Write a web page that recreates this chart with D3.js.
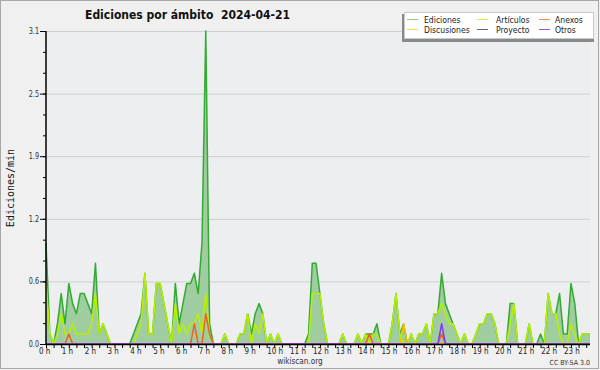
<!DOCTYPE html>
<html>
<head>
<meta charset="utf-8">
<script src="https://cdn.jsdelivr.net/npm/d3@7/dist/d3.min.js"></script>
<style>
  body { margin: 0; background: #f0f0f0; }
  svg { display: block; }
  text { font-family: 'DejaVu Sans Condensed', 'DejaVu Sans', sans-serif; white-space: pre; }
</style>
</head>
<body>
<div id="container"></div>
<script>
// one value every 10 minutes, edits per minute
const total = [
  1.0,0.1,0,0.2,0.5,0.2,0.6,0.4,0.3,0.5,0.5,0.4,
  0.3,0.8,0.1,0.2,0.1,0,0,0,0,0,0,0.1,
  0.2,0.3,0.7,0.1,0.1,0.6,0.6,0.4,0.2,0,0.6,0.2,
  0.4,0.6,0.6,0.7,0.5,1.0,3.1,0.2,0,0,0,0.1,
  0,0,0,0.1,0.1,0.3,0.1,0.3,0.4,0.3,0,0.1,
  0,0.1,0,0,0,0,0,0,0,0.1,0.8,0.8,
  0.5,0.2,0,0,0,0,0.1,0,0,0,0.1,0,
  0.1,0.1,0.1,0.2,0,0,0,0.2,0.5,0.1,0.2,0,
  0.1,0,0.1,0.1,0.2,0,0.3,0.3,0.7,0.4,0.3,0.2,
  0.1,0,0.1,0,0,0.1,0.2,0.2,0.3,0.3,0.2,0,
  0,0,0.4,0.4,0,0,0,0.2,0,0,0.1,0,
  0.5,0.3,0.3,0.5,0.1,0.1,0.6,0.4,0,0.1,0.1,0.1
];
const articulos = [
  0.6,0.1,0,0.1,0.3,0.1,0.1,0.2,0.1,0.1,0.1,0.1,
  0.2,0.5,0.1,0.2,0.1,0,0,0,0,0,0,0,
  0.1,0.2,0.7,0.1,0.1,0.6,0.6,0.4,0.2,0,0.4,0.1,
  0.2,0.1,0.2,0.2,0.3,0.1,0.5,0.1,0,0,0,0.1,
  0,0,0,0.1,0.1,0.3,0,0.2,0.1,0.3,0,0.1,
  0,0.1,0,0,0,0,0,0,0,0,0.5,0.5,
  0.5,0.2,0,0,0,0,0.1,0,0,0,0.1,0,
  0.1,0,0.1,0.1,0,0,0,0.2,0.5,0.1,0,0,
  0.1,0,0.1,0.1,0.2,0,0.3,0.3,0.4,0.3,0.2,0.2,
  0.1,0,0.1,0,0,0.1,0.2,0.2,0.3,0.3,0.2,0,
  0,0,0.2,0.4,0,0,0,0.2,0,0,0,0,
  0.5,0.3,0.3,0.1,0,0,0.2,0.1,0,0.1,0.1,0.1
];
const anexos = [
  0,0,0,0,0,0,0.1,0,0,0,0,0,
  0,0,0,0,0,0,0,0,0,0,0,0,
  0,0,0,0,0,0,0,0,0,0,0,0,
  0,0,0,0.2,0,0,0.3,0.1,0,0,0,0,
  0,0,0,0,0,0,0,0,0,0,0,0,
  0,0,0,0,0,0,0,0,0,0,0,0,
  0,0,0,0,0,0,0,0,0,0,0,0,
  0,0.1,0,0,0,0,0,0,0,0,0,0,
  0,0,0,0,0,0,0,0,0.1,0,0,0,
  0,0,0,0,0,0,0,0,0,0,0,0,
  0,0,0,0,0,0,0,0,0,0,0,0,
  0,0,0,0,0,0,0,0,0,0,0,0
];
const discusiones = [
  0,0,0,0,0,0,0,0,0,0,0,0,
  0,0,0,0,0,0,0,0,0,0,0,0,
  0,0,0,0,0,0,0,0,0,0,0,0,
  0,0,0,0,0,0,0,0,0,0,0,0,
  0,0,0,0,0,0,0,0,0,0,0,0,
  0,0,0,0,0,0,0,0,0,0,0,0,
  0,0,0,0,0,0,0,0,0,0,0,0,
  0,0,0,0,0,0,0,0,0,0,0.2,0,
  0,0,0,0,0,0,0,0,0,0,0,0,
  0,0,0,0,0,0,0,0,0,0,0,0,
  0,0,0,0,0,0,0,0,0,0,0,0,
  0,0,0,0,0,0,0,0,0,0,0,0
];
const proyecto = new Array(144).fill(0);
const otros = [
  0,0,0,0,0,0,0,0,0,0,0,0,
  0,0,0,0,0,0,0,0,0,0,0,0,
  0,0,0,0,0,0,0,0,0,0,0,0,
  0,0,0,0,0,0,0,0,0,0,0,0,
  0,0,0,0,0,0,0,0,0,0,0,0,
  0,0,0,0,0,0,0,0,0,0,0,0,
  0,0,0,0,0,0,0,0,0,0,0,0,
  0,0,0,0,0,0,0,0,0,0,0,0,
  0,0,0,0,0,0,0,0,0.2,0,0,0,
  0,0,0,0,0,0,0,0,0,0,0,0,
  0,0,0,0,0,0,0,0,0,0,0,0,
  0,0,0,0,0,0,0,0,0,0,0,0
];

const hourLabels = ['0 h','1 h','2 h','3 h','4 h','5 h','6 h','7 h','8 h','9 h','10 h','11 h',
  '12 h','13 h','14 h','15 h','16 h','17 h','18 h','19 h','20 h','21 h','22 h','23 h'];
const yTicks = [0, 0.62, 1.24, 1.86, 2.48, 3.1];
const yTickLabels = ['0.0', '0.6', '1.2', '1.9', '2.5', '3.1'];

const legendNames = ['Ediciones', 'Artículos', 'Anexos', 'Discusiones', 'Proyecto', 'Otros'];
const legendColors = ['#88cc88', '#ccee55', '#ff8855', '#ffd855', '#666666', '#9955ee'];

const width = 600, height = 370;
const svg = d3.select('#container').append('svg')
  .attr('width', width)
  .attr('height', height);

// squeeze text a little, the original font is narrower
function condense(sel, k) {
  sel.each(function() {
    const w = this.getComputedTextLength();
    d3.select(this)
      .attr('textLength', w * k)
      .attr('lengthAdjust', 'spacingAndGlyphs');
  });
}

const x = d3.scaleLinear().domain([0, total.length - 1]).range([46, 590]);
const y = d3.scaleLinear().domain([0, 3.1]).range([344, 31]);

// frame
svg.append('rect')
  .attr('x', 0.5).attr('y', 0.5)
  .attr('width', 598).attr('height', 368)
  .attr('fill', '#f0f0f0')
  .attr('stroke', '#a8a8a8');

svg.append('rect')
  .attr('x', x(0)).attr('y', y(3.1))
  .attr('width', x(143) - x(0)).attr('height', y(0) - y(3.1))
  .attr('fill', '#edeef0');

// grid
svg.append('g')
  .selectAll('line')
  .data(yTicks.slice(1))
  .enter()
  .append('line')
  .attr('x1', x(0)).attr('x2', x(143))
  .attr('y1', (d) => y(d) + 0.5).attr('y2', (d) => y(d) + 0.5)
  .attr('stroke', '#cfcfcf');

// area for total edits
const area = d3.area()
  .x((d, i) => x(i))
  .y0(y(0))
  .y1((d) => y(d));

svg.append('path')
  .datum(total)
  .attr('d', area)
  .attr('fill', '#a0cda0');

const line = d3.line()
  .x((d, i) => x(i))
  .y((d) => y(d));

const series = [
  { values: total, color: '#33aa33' },
  { values: proyecto, color: '#555555' },
  { values: discusiones, color: '#f2c200' },
  { values: articulos, color: '#b8f000' },
  { values: anexos, color: '#f06020' },
  { values: otros, color: '#8833ff' }
];

svg.append('g')
  .selectAll('path')
  .data(series)
  .enter()
  .append('path')
  .attr('d', (d) => line(d.values))
  .attr('fill', 'none')
  .attr('stroke', (d) => d.color)
  .attr('stroke-width', 1.5)
  .attr('stroke-linejoin', 'round');

// y axis
const yMinor = d3.range(16).map((k) => k * 3.1 / 15);
svg.append('g')
  .attr('transform', `translate(${x(0)},0)`)
  .call(d3.axisLeft(y).tickValues(yMinor).tickSize(3).tickSizeOuter(0).tickFormat(''))
  .call((g) => g.select('.domain').remove());

const yAxis = svg.append('g')
  .attr('transform', `translate(${x(0)},0)`)
  .call(d3.axisLeft(y)
    .tickValues(yTicks)
    .tickSize(6)
    .tickSizeOuter(0)
    .tickPadding(1)
    .tickFormat((d, i) => yTickLabels[i]));
yAxis.select('.domain').remove();
yAxis.selectAll('text')
  .attr('font-size', 8)
  .attr('fill', '#333')
  .call(condense, 0.9);

svg.append('line')
  .attr('x1', x(0)).attr('x2', x(0))
  .attr('y1', y(3.1)).attr('y2', y(0) + 1)
  .attr('stroke', '#000')
  .attr('stroke-width', 1.5);

// x axis
svg.append('g')
  .attr('transform', `translate(0,${y(0)})`)
  .call(d3.axisBottom(x).tickValues(d3.range(0, 144, 2)).tickSize(4).tickSizeOuter(0).tickFormat(''))
  .call((g) => g.select('.domain').remove());

svg.append('line')
  .attr('x1', x(0)).attr('x2', x(143))
  .attr('y1', y(0) + 0.5).attr('y2', y(0) + 0.5)
  .attr('stroke', '#000')
  .attr('stroke-width', 1.5);

svg.append('g')
  .selectAll('text')
  .data(hourLabels)
  .enter()
  .append('text')
  .attr('x', (d, i) => x(i * 6) - 7)
  .attr('y', 354)
  .attr('font-size', 9)
  .attr('fill', '#222')
  .text((d) => d)
  .call(condense, 0.88);

// titles
svg.append('text')
  .attr('x', 85).attr('y', 19)
  .attr('font-size', 13)
  .attr('font-weight', 'bold')
  .attr('fill', '#111')
  .attr('textLength', 205)
  .attr('lengthAdjust', 'spacingAndGlyphs')
  .text('Ediciones por ámbito  2024-04-21');

svg.append('text')
  .attr('transform', 'translate(14,188) rotate(-90)')
  .attr('text-anchor', 'middle')
  .style('font-family', "'DejaVu Sans Mono', monospace")
  .attr('font-size', 10)
  .attr('fill', '#111')
  .text('Ediciones/min');

svg.append('text')
  .attr('x', 300).attr('y', 364)
  .attr('text-anchor', 'middle')
  .attr('font-size', 9)
  .attr('fill', '#333')
  .text('wikiscan.org')
  .call(condense, 0.9);

svg.append('text')
  .attr('x', 590).attr('y', 365)
  .attr('text-anchor', 'end')
  .attr('font-size', 7)
  .attr('fill', '#333')
  .text('CC BY-SA 3.0');

// legend
const legend = svg.append('g');
legend.append('rect')
  .attr('x', 402).attr('y', 14)
  .attr('width', 192).attr('height', 28)
  .attr('fill', '#8a8a8a');
legend.append('rect')
  .attr('x', 404.5).attr('y', 12.5)
  .attr('width', 189).attr('height', 26)
  .attr('fill', '#fff')
  .attr('stroke', '#c8c8c8');

const colX = [407, 477, 539];
const rowY = [19.5, 29.5];
const items = legend.selectAll('g.item')
  .data(legendNames)
  .enter()
  .append('g')
  .attr('transform', (d, i) => `translate(${colX[i % 3]},${rowY[Math.floor(i / 3)]})`);
items.append('line')
  .attr('x1', 0).attr('x2', 11)
  .attr('stroke', (d, i) => legendColors[i])
  .attr('stroke-width', 1);
items.append('text')
  .attr('x', (d, i) => [17, 19, 16][i % 3])
  .attr('y', 3.5)
  .attr('font-size', 9.5)
  .attr('fill', '#222')
  .text((d) => d)
  .call(condense, 0.9);
</script>
</body>
</html>
